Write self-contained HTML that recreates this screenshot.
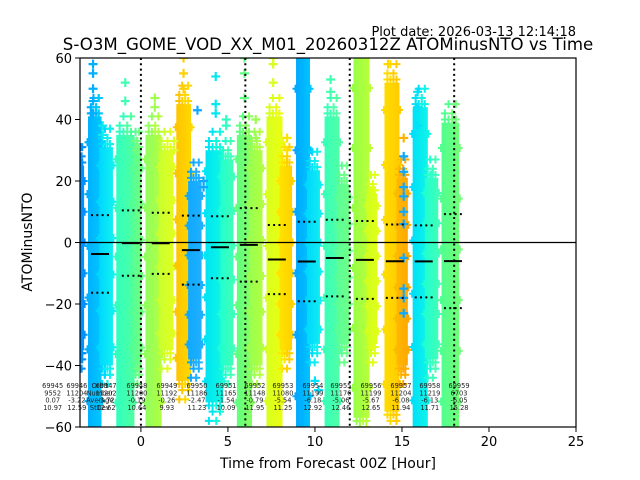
<!DOCTYPE html>
<html><head><meta charset="utf-8"><style>
html,body{margin:0;padding:0;background:#fff;}
svg{display:block;font-family:"DejaVu Sans","Liberation Sans",sans-serif;}
</style></head><body>
<svg id="chart" width="640" height="480" viewBox="0 0 640 480" xmlns="http://www.w3.org/2000/svg">
<defs id="defs"></defs>
<text x="576" y="36" text-anchor="end" font-size="13">Plot date: 2026-03-13 12:14:18</text>
<text x="328" y="50" text-anchor="middle" font-size="16.6">S-O3M_GOME_VOD_XX_M01_20260312Z ATOMinusNTO vs Time</text>
<g id="plot"></g>
<text x="328" y="468" text-anchor="middle" font-size="14">Time from Forecast 00Z [Hour]</text>
<text x="32" y="242" text-anchor="middle" font-size="14" transform="rotate(-90 32 242)">ATOMinusNTO</text>
</svg>
<script>
// ---- data ----
const orbits   = [69945,69946,69947,69948,69949,69950,69951,69952,69953,69954,69955,69956,69957,69958,69959];
const counts   = [9552,11204,11202,11200,11192,11186,11165,11148,11080,11199,11176,11199,11204,11219,6703];
const means    = [0.07,-3.22,-3.72,-0.19,-0.26,-2.47,-1.54,-0.79,-5.54,-6.18,-5.06,-5.67,-6.08,-6.13,-6.05];
const stdevs   = [10.97,12.59,12.62,10.64,9.93,11.23,10.09,11.95,11.25,12.92,12.46,12.65,11.94,11.71,15.28];
const groupTimes = [-5.07,-3.68,-2.0,-0.23,1.49,3.22,4.89,6.55,8.16,9.88,11.49,13.22,14.94,16.6,18.28];
const mainT0 = [-3.5,-2.95,-2.95,-1.33,0.35,2.12,3.8,5.6,7.3,9.0,10.64,12.3,14.08,15.7,17.36];
const mainT1 = [-3.35,-2.35,-2.35,-0.46,1.1,2.8,4.65,6.3,8.05,9.63,11.33,13.05,14.77,16.4,18.2];
const mainLo = [-35,-60,-60,-60,-60,-45,-52,-60,-60,-60,-60,-57,-55,-60,-60];
const mainHi = [25,41,41,35,35,45,30,35,41,60,41,60,52,44,39];
const mainC0 = ["#0090ff","#00b0ff","#00b0ff","#30ffc0","#90ff60","#ffc400","#00e4f4","#60ff80","#d8ff20","#00a8ff","#38ffb8","#98ff48","#ffdc00","#00e0f8","#50ff90"];
const mainC1 = ["#0090ff","#00c8ff","#00c8ff","#50ffa0","#b0ff40","#ffd800","#10f8e0","#88ff60","#eaff10","#00c4ff","#50ffa8","#b8ff38","#ffcc00","#10f4e8","#70ff78"];
const subT0 = [null,-2.3,-2.3,-0.46,1.1,2.8,4.65,6.3,8.05,9.63,11.33,13.05,14.77,16.4,null];
const subT1 = [null,-1.7,-1.7,-0.05,1.78,3.4,5.23,6.9,8.6,10.2,11.9,13.5,15.25,17.0,null];
const subLo = [null,-40,-40,-40,-35,-38,-40,-40,-35,-33,-33,-33,-40,-38,null];
const subHi = [null,31,31,30,30,20,27,30,25,23.5,19,16,21,21,null];
const subC0 = [null,"#00d8ff","#00d8ff","#50ff98","#c8ff30","#10a8ff","#20ffd0","#98ff50","#ffe400","#00d8ff","#58ff98","#d0ff20","#ffb800","#20ffd0",null];
const subC1 = [null,"#10f0f0","#10f0f0","#70ff80","#e0ff20","#20b0ff","#40ffb8","#b0ff40","#ffd000","#10ecf0","#70ff88","#e0ff18","#ffa800","#40ffb8",null];
const outT = [-2.75,-2.75,-2.75,-2.75,-2.75,-2.2,-2.2,-0.9,-0.9,-0.25,-0.25,0.8,0.8,1.9,1.9,2.45,2.45,2.45,3.25,3.6,3.6,4.3,4.3,4.3,4.9,4.9,5.95,5.95,5.95,6.6,6.6,7.6,7.6,7.6,8.4,8.4,10.9,10.9,15.1,15.1,15.1,15.1,15.1,15.1,15.1,15.1,15.1,15.1,15.1,14.2,15.9,15.9,15.9,16.7,16.7,10.0,10.2];
const outV = [58,55,50,46,42,38,35,52,46,33,30,47,44,33,30,60,55,50,43,20,18,54,45,42,40,38,60,55,47,40,34,60,58,52,34,30,53,49,34,28,23,18,15,10,6,-5,-15,-18,-23,58,49,44,38,22,20,-45,-48];
const outC = ["#00b0ff","#00b0ff","#00b0ff","#00b0ff","#00b0ff","#10e8f0","#10e8f0","#40ffb0","#40ffb0","#70ff80","#70ff80","#a0ff50","#a0ff50","#d8ff20","#d8ff20","#ffd000","#ffd000","#ffd000","#10a8ff","#10a8ff","#10a8ff","#00e8f0","#00e8f0","#00e8f0","#30ffc0","#30ffc0","#60ff80","#60ff80","#60ff80","#98ff50","#98ff50","#d8ff20","#d8ff20","#d8ff20","#ffe000","#ffe000","#40ffb0","#40ffb0","#ffb000","#10a8ff","#10a8ff","#10a8ff","#10a8ff","#10a8ff","#10a8ff","#10a8ff","#10a8ff","#10a8ff","#10a8ff","#ffd800","#00e0f8","#00e0f8","#00e0f8","#30ffc8","#30ffc8","#00e0ff","#00e0ff"];
const vLines = [0,6,12,18];
const xTicks = [0,5,10,15,20,25];
const yTicks = [-60,-40,-20,0,20,40,60];

const L=80,R=576,T=58,B=427, XMIN=-3.5, XMAX=25, YMIN=-60, YMAX=60;
const sx = v => L + (v-XMIN)/(XMAX-XMIN)*(R-L);
const sy = v => B - (v-YMIN)/(YMAX-YMIN)*(B-T);
const NS="http://www.w3.org/2000/svg";
const plot=document.getElementById('plot'), defs=document.getElementById('defs');
function mk(tag, attrs, parent){const e=document.createElementNS(NS,tag);for(const k in attrs)e.setAttribute(k,attrs[k]);(parent||plot).appendChild(e);return e;}

const cp=mk('clipPath',{id:'clip'},defs); mk('rect',{x:L,y:T,width:R-L,height:B-T},cp);
const g=mk('g',{'clip-path':'url(#clip)'});



function grad(id,c0,c1){const lg=mk('linearGradient',{id:id,x1:0,y1:0,x2:1,y2:0},defs);mk('stop',{offset:0,'stop-color':c0},lg);mk('stop',{offset:1,'stop-color':c1},lg);}
function band(t0,t1,lo,hi,c0,c1,id,name){
  grad(id,c0,c1);
  const r=mk('rect',{x:sx(t0)-1.5,y:sy(hi),width:sx(t1)-sx(t0)+3,height:sy(lo)-sy(hi),fill:'url(#'+id+')'},g);
  
  
  const n=4;
  for(let k=0;k<n;k++){
    const tt=t0+(t1-t0)*(k+0.5)/n;
    [hi+3+k%2*3, hi+1, lo-3-(k+1)%2*3, lo-1].forEach(v=>{
      const p=mk('path',{d:`M${sx(tt)-4},${sy(v)}h8M${sx(tt)},${sy(v)-4}v8`,stroke:k<2?c0:c1,'stroke-width':2},g);
      
      
    });
  }
  for(let k=0;k<6;k++){
    const v=lo+(hi-lo)*(k+0.5)/6;
    [sx(t0)-2,sx(t1)+2].forEach((x,j)=>{
      const p=mk('path',{d:`M${x-3},${sy(v)}h6M${x},${sy(v)-4}v8`,stroke:j?c1:c0,'stroke-width':2},g);
      
      
    });
  }
}
for(let i=0;i<orbits.length;i++){
  band(mainT0[i],mainT1[i],mainLo[i],mainHi[i],mainC0[i],mainC1[i],'gm'+i,'main-band-'+orbits[i]);
  if(subT0[i]!==null) band(subT0[i],subT1[i],subLo[i],subHi[i],subC0[i],subC1[i],'gs'+i,'sub-band-'+orbits[i]);
}
for(let i=0;i<outT.length;i++){
  const x=sx(outT[i]), y=sy(outV[i]);
  const p=mk('path',{d:`M${x-4.5},${y}h9M${x},${y-4.5}v9`,stroke:outC[i],'stroke-width':2.2},g);
  
  
}
const zl=mk('line',{x1:L,x2:R,y1:sy(0),y2:sy(0),stroke:'#000','stroke-width':1.2},g);


vLines.forEach(v=>{
  const l=mk('line',{x1:sx(v),x2:sx(v),y1:T,y2:B,stroke:'#000','stroke-width':2,'stroke-dasharray':'2,3.3'},g);
  
  
});
for(let i=0;i<orbits.length;i++){
  const c=groupTimes[i]-0.35, x0=sx(c)-9, x1=sx(c)+9;
  const m=mk('line',{x1:x0,x2:x1,y1:sy(means[i]),y2:sy(means[i]),stroke:'#000','stroke-width':2},g);
  
  
  [means[i]+stdevs[i],means[i]-stdevs[i]].forEach(v=>{
    const s=mk('line',{x1:x0,x2:x1,y1:sy(v),y2:sy(v),stroke:'#000','stroke-width':2,'stroke-dasharray':'2,3.3'},g);
    
    
  });
}
const ann=mk('g',{'font-size':'6.6','text-anchor':'middle',fill:'#222'});


const lab=['Orbit','Number','Average','StDev'];
lab.forEach((s,k)=>{const t=mk('text',{x:sx(-2.36),y:388+k*7.3},ann);t.textContent=s;
  
  });
for(let i=0;i<orbits.length;i++){
  const x=sx(groupTimes[i]);
  [orbits[i],counts[i],means[i].toFixed(2),stdevs[i].toFixed(2)].forEach((s,k)=>{
    const t=mk('text',{x:x,y:388+k*7.3},ann);t.textContent=s;
    
    
  });
}
const fr=mk('rect',{x:L,y:T,width:R-L,height:B-T,fill:'none',stroke:'#000','stroke-width':1.2});


xTicks.forEach(v=>{
  mk('line',{x1:sx(v),x2:sx(v),y1:B,y2:B+5,stroke:'#000'});
  const t=mk('text',{x:sx(v),y:B+19,'font-size':13,'text-anchor':'middle'});t.textContent=v;
  
  
});
yTicks.forEach(v=>{
  mk('line',{x1:L-5,x2:L,y1:sy(v),y2:sy(v),stroke:'#000'});
  const t=mk('text',{x:L-8,y:sy(v)+5,'font-size':13,'text-anchor':'end'});t.textContent=(v<0?'\u2212'+(-v):v);
  
  
});
</script>
</body></html>
